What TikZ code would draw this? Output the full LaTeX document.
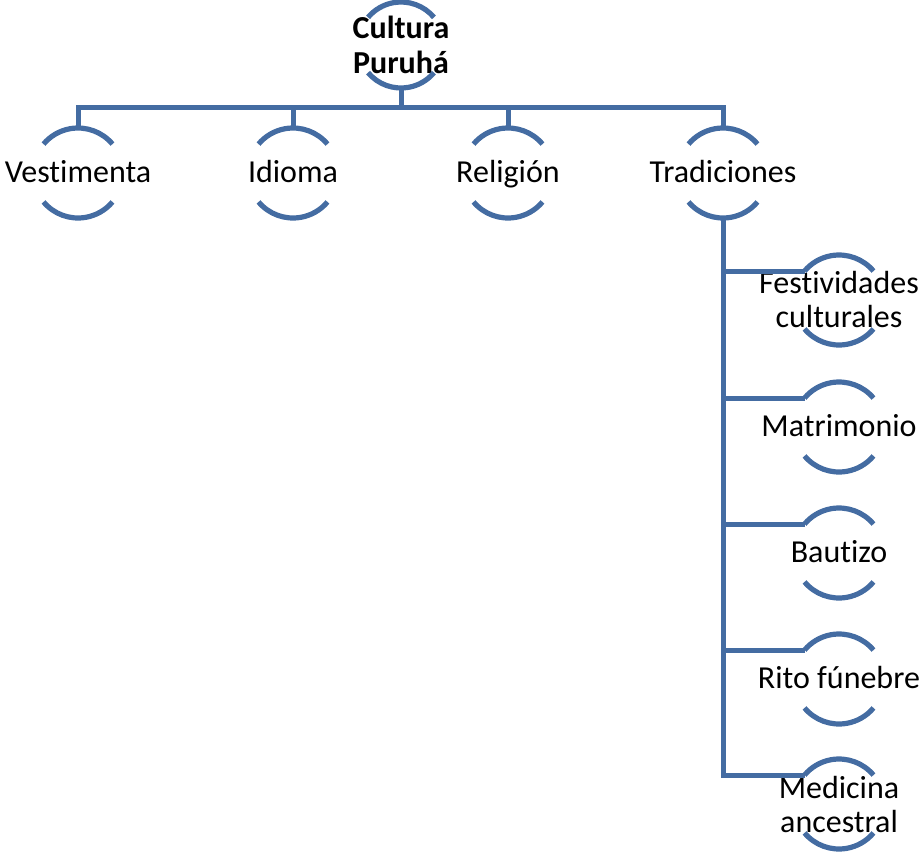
\documentclass[tikz,border=0pt]{standalone}
\usepackage{fontspec}
\setmainfont[Ligatures={NoCommon,NoContextual}]{Carlito}
\definecolor{ringblue}{RGB}{68,108,162}
\tikzset{
  topic/.style={shape=rectangle,inner sep=0pt,align=center,font=\fontsize{24}{25.5}\selectfont},
  oneline/.style={text height=17pt,text depth=3.5pt},
  ring/.style={draw=ringblue,line width=3.9pt},
  link/.style={draw=ringblue,line width=3.75pt}
}
\newcommand{\ringarcs}[2]{%
  \draw[ring] ([shift={(40:#2)}]#1.center) arc[start angle=40,end angle=140,radius=#2];
  \draw[ring] ([shift={(220:#2)}]#1.center) arc[start angle=220,end angle=320,radius=#2];}

\begin{document}
\begin{tikzpicture}[x=0.75pt,y=-0.75pt]
\useasboundingbox (0,0) rectangle (922,851);

\node[topic,font=\fontsize{24}{26.5}\selectfont\bfseries] (root) at (401,45) {Cultura\\Puruhá};
\node[topic,oneline] (vest) at (78,173) {Vestimenta};
\node[topic,oneline] (idio) at (293,173) {Idioma};
\node[topic,oneline] (reli) at (508,173) {Religión};
\node[topic,oneline] (trad) at (723,173) {Tradiciones};

\node[topic] (fest) at (839,300) {Festividades\\culturales};
\node[topic,oneline] (matr) at (839,427) {Matrimonio};
\node[topic,oneline] (baut) at (839,553) {Bautizo};
\node[topic,oneline] (rito) at (839,679) {Rito fúnebre};
\node[topic] (medi) at (839,804) {Medicina\\ancestral};

\ringarcs{root}{32.25pt}
\foreach \n in {vest,idio,reli,trad}
  {\ringarcs{\n}{33.75pt}}
\foreach \n in {fest,matr,baut,rito,medi}
  {\ringarcs{\n}{33.75pt}}

\coordinate (hub) at (401,107);
\draw[link] ([yshift=-32.25pt]root.center) -- (hub);
\draw[link] ([yshift=33.75pt]vest.center) |- (hub) -| ([yshift=33.75pt]trad.center);
\draw[link] ([yshift=33.75pt]idio.center) -- (idio.center |- hub);
\draw[link] ([yshift=33.75pt]reli.center) -- (reli.center |- hub);

\foreach \n in {fest,matr,baut,rito,medi}
  {\coordinate (\n-in) at ([shift={(140:33.75pt)}]\n.center);}
\draw[link] ([yshift=-33.75pt]trad.center) |- (medi-in);
\foreach \n in {fest,matr,baut,rito}
  {\draw[link] (trad.center |- \n-in) -- (\n-in);}
\end{tikzpicture}
\end{document}
